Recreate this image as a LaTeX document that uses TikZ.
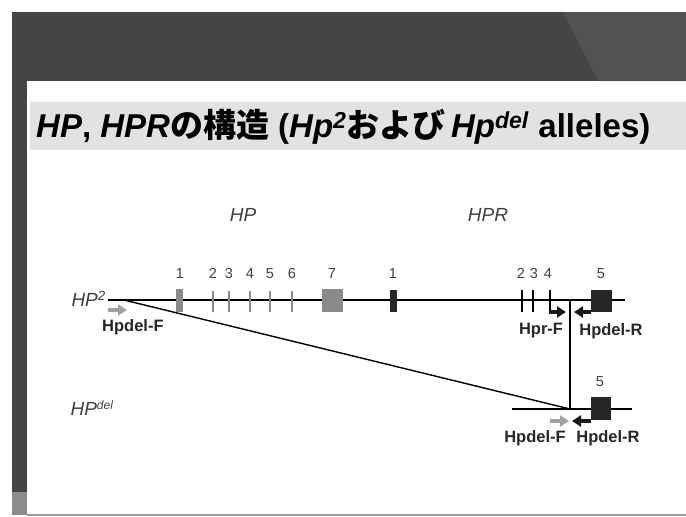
\documentclass[tikz,border=0pt]{standalone}
\usepackage{fontspec}
\setmainfont{Liberation Sans}
\newfontfamily\jpfont{Noto Sans CJK JP}
\usetikzlibrary{arrows.meta}

\definecolor{slidedark}{HTML}{454545}
\definecolor{titleband}{HTML}{E2E2E2}
\definecolor{exongray}{HTML}{8A8A8A}

\begin{document}
\begin{tikzpicture}[
	x=1pt, y=-1pt,
	numlabel/.style={font=\fontsize{14.5}{14.5}\selectfont, text=black!75, inner sep=0pt, anchor=base},
	genelabel/.style={font=\fontsize{19}{19}\selectfont\itshape, text=black!75, inner sep=0pt},
	primer/.style={font=\fontsize{16.5}{16.5}\selectfont\bfseries, text=black!85, inner sep=0pt},
	fwdgray/.style={-{Triangle[length=9pt,width=11pt]}, line width=3.6pt, exongray!80},
	revblack/.style={-{Triangle[length=9pt,width=11pt]}, line width=3.6pt, black!90},
	grayexon/.style={fill=exongray, draw=none},
	blackexon/.style={fill=black!85, draw=none},
	tick/.style={line width=1.3pt},
	dnaline/.style={line width=1.4pt}
	]
	\useasboundingbox (0,0) rectangle (686,517);

	% Slide frame
	\fill[slidedark] (12,12) rectangle (686,81);
	\fill[slidedark!93] (563,12) -- (598,81) -- (686,81) -- (686,12) -- cycle;
	\fill[slidedark] (12,81) rectangle (27,515);
	\fill[black!45] (12,492) rectangle (27,515);
	\draw[black!40, line width=1.5pt] (27,515) -- (686,515);

	% Title
	\fill[titleband] (30,102) rectangle (686,150);
	\node (title) [anchor=west, inner sep=0pt, font=\fontsize{33}{33}\selectfont\bfseries]
		at (36,127) {\textit{HP}, \textit{HPR}{\jpfont の構造} (\textit{Hp}\textsuperscript{\textit{2}}{\jpfont および}\,\textit{Hp}\textsuperscript{\textit{del}} alleles)};

	% Gene names
	\node (hp) [genelabel] at (243,215) {HP};
	\node (hpr) [genelabel] at (488,215) {HPR};

	% Hp2 allele
	\node (hp2) [genelabel, anchor=east] at (106,299) {HP\textsuperscript{2}};
	\coordinate (l0) at (108,300);
	\coordinate (l1) at (625,300);
	\coordinate (brk) at (124,300);
	\draw[dnaline] (l0) -- (l1);

	% HP exons
	\fill[grayexon] (176,289) rectangle (183,312);
	\foreach \xx in {213,229,250,270,292}
		\draw[tick, exongray] (\xx,291) -- (\xx,312);
	\fill[grayexon] (322,289) rectangle (343,312);
	\foreach \xx/\lab in {180/1,213/2,229/3,250/4,270/5,292/6,332/7}
		\node[numlabel] at (\xx,278) {\lab};

	% HPR exons
	\fill[blackexon] (390,290) rectangle (397,312);
	\foreach \xx in {522,533}
		\draw[tick] (\xx,290) -- (\xx,312);
	\fill[blackexon] (591,290) rectangle (612,312);
	\foreach \xx/\lab in {393/1,521/2,534/3,548/4,601/5}
		\node[numlabel] at (\xx,278) {\lab};

	% Hpr-F bent arrow from exon 4
	\draw[tick] (550,290) -- (550,313);
	\draw[revblack] (549,312) -- (566,312);
	\node (hprf) [primer] at (541,331) {Hpr-F};

	% Hpdel-R on Hp2
	\draw[revblack] (591,312) -- (574,312);
	\node (hpdelr) [primer] at (611,331) {Hpdel-R};

	% Hpdel-F on Hp2
	\draw[fwdgray] (108,310) -- (127,310);
	\node (hpdelf) [primer, anchor=west] at (102,327) {Hpdel-F};

	% Hpdel allele
	\node (hpdel) [genelabel] at (92,408) {HP\textsuperscript{\fontsize{12}{12}\selectfont del}};
	\coordinate (m0) at (512,409);
	\coordinate (m1) at (632,409);
	\coordinate (jn) at (570,409);
	\coordinate (top) at (570,300);
	\draw[dnaline] (m0) -- (m1);
	\draw[dnaline] (brk) -- (jn);
	\draw[line width=1.1pt] (top) -- (jn);
	\fill[blackexon] (591,397) rectangle (611,420);
	\node[numlabel] at (600,386) {5};

	\draw[fwdgray] (550,421) -- (569,421);
	\draw[revblack] (591,421) -- (572,421);
	\node (hpdelf2) [primer] at (535,438) {Hpdel-F};
	\node (hpdelr2) [primer] at (608,438) {Hpdel-R};
\end{tikzpicture}
\end{document}
